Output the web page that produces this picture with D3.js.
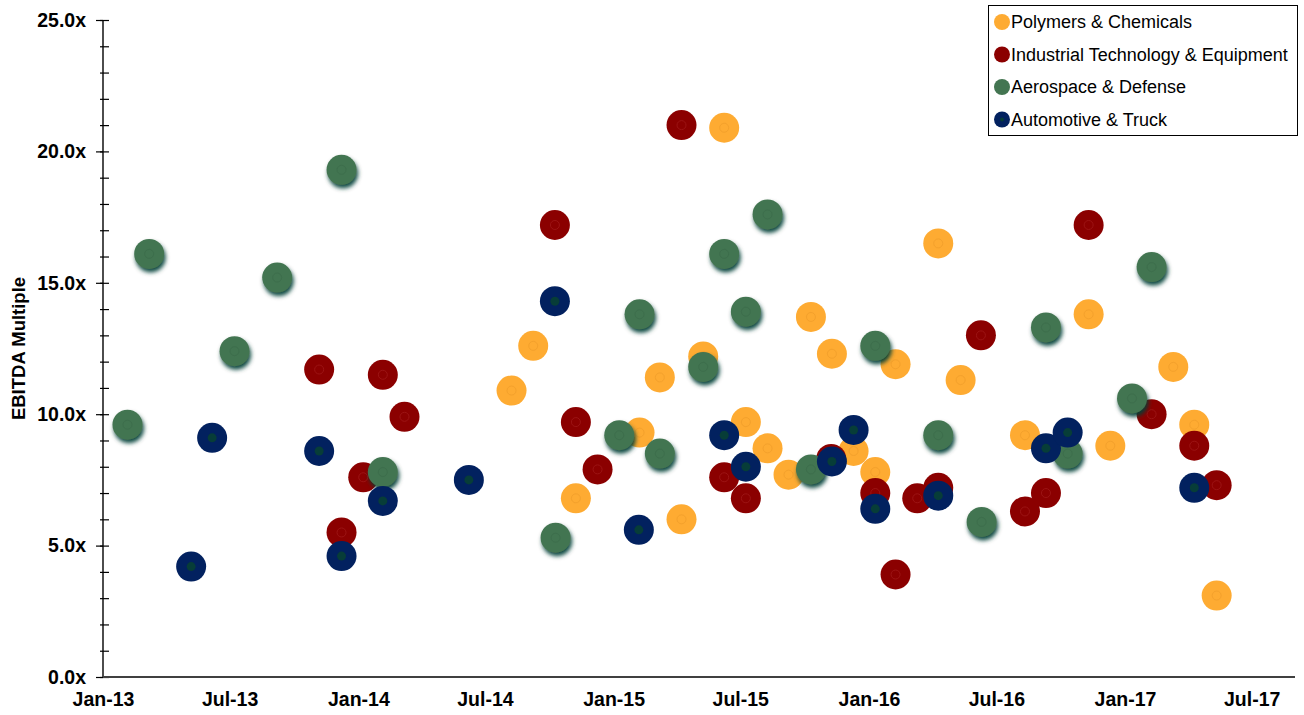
<!DOCTYPE html>
<html>
<head>
<meta charset="utf-8">
<script src="https://cdn.jsdelivr.net/npm/d3@7"></script>
<style>
  html, body { margin: 0; padding: 0; background: #fff; }
  svg text { font-family: "Liberation Sans", Arial, sans-serif; }
</style>
</head>
<body>
<svg id="chart" width="1304" height="715"></svg>
<script>
// series (date, EBITDA multiple)
const polymers = [
    ["2014-08-08", 10.9], ["2014-09-08", 12.6], ["2014-11-08", 6.8], ["2015-02-07", 9.3],
    ["2015-03-08", 11.4], ["2015-04-08", 6.0], ["2015-05-09", 12.2], ["2015-06-08", 20.9],
    ["2015-07-09", 9.7], ["2015-08-09", 8.7], ["2015-09-08", 7.7], ["2015-10-10", 13.7],
    ["2015-11-09", 12.3], ["2015-12-10", 8.6], ["2016-01-10", 7.8], ["2016-02-08", 11.9],
    ["2016-04-09", 16.5], ["2016-05-11", 11.3], ["2016-08-11", 9.2], ["2016-11-10", 13.8],
    ["2016-12-11", 8.8], ["2017-03-11", 11.8], ["2017-04-10", 9.6], ["2017-05-12", 3.1]
];
const industrial = [
    ["2013-11-06", 11.7], ["2013-12-08", 5.5], ["2014-01-08", 7.6], ["2014-02-05", 11.5],
    ["2014-03-08", 9.9], ["2014-10-09", 17.2], ["2014-11-08", 9.7], ["2014-12-09", 7.9],
    ["2015-04-08", 21.0], ["2015-06-08", 7.6], ["2015-07-09", 6.8], ["2015-11-08", 8.3],
    ["2016-01-10", 7.0], ["2016-02-08", 3.9], ["2016-03-10", 6.8], ["2016-04-09", 7.2],
    ["2016-06-09", 13.0], ["2016-08-11", 6.3], ["2016-09-10", 7.0], ["2016-11-10", 17.2],
    ["2017-02-08", 10.0], ["2017-04-10", 8.8], ["2017-05-12", 7.3]
];
const aerospace = [
    ["2013-02-05", 9.6], ["2013-03-08", 16.1], ["2013-07-08", 12.4], ["2013-09-07", 15.2],
    ["2013-12-08", 19.3], ["2014-02-05", 7.8], ["2014-10-10", 5.3], ["2015-01-09", 9.2],
    ["2015-02-07", 13.8], ["2015-03-08", 8.5], ["2015-05-09", 11.8], ["2015-06-08", 16.1],
    ["2015-07-09", 13.9], ["2015-08-09", 17.6], ["2015-10-10", 7.9], ["2016-01-10", 12.6],
    ["2016-04-09", 9.2], ["2016-06-10", 5.9], ["2016-09-10", 13.3], ["2016-10-11", 8.5],
    ["2017-01-11", 10.6], ["2017-02-08", 15.6]
];
const automotive = [
    ["2013-05-07", 4.2], ["2013-06-06", 9.1], ["2013-11-06", 8.6], ["2013-12-08", 4.6],
    ["2014-02-05", 6.7], ["2014-06-08", 7.5], ["2014-10-09", 14.3], ["2015-02-06", 5.6],
    ["2015-06-08", 9.2], ["2015-07-09", 8.0], ["2015-11-09", 8.2], ["2015-12-10", 9.4],
    ["2016-01-10", 6.4], ["2016-04-09", 6.9], ["2016-09-10", 8.7], ["2016-10-11", 9.3],
    ["2017-04-10", 7.2]
];

const seriesNames = ["Polymers & Chemicals", "Industrial Technology & Equipment", "Aerospace & Defense", "Automotive & Truck"];
const seriesData = [polymers, industrial, aerospace, automotive];
const seriesColors = ["#FEAB32", "#8B0000", "#437551", "#02215F"];

const xTickDates = ["2013-01-01", "2013-07-01", "2014-01-01", "2014-07-01", "2015-01-01",
    "2015-07-01", "2016-01-01", "2016-07-01", "2017-01-01", "2017-07-01"];
const yMajorTicks = [0, 5, 10, 15, 20, 25];
const yMinorTicks = d3.range(0, 26, 1);
const yTitle = "EBITDA Multiple";

const parseDate = d3.timeParse("%Y-%m-%d");
const svg = d3.select("#chart");

const x = d3.scaleTime()
    .domain([parseDate("2013-01-01"), parseDate("2017-09-01")])
    .range([103, 1295]);
const y = d3.scaleLinear()
    .domain([0, 25])
    .range([677, 20]);

// drop shadow used by the aerospace markers
const defs = svg.append("defs");
const shadow = defs.append("filter")
    .attr("id", "green-shadow")
    .attr("x", "-50%").attr("y", "-50%")
    .attr("width", "200%").attr("height", "200%");
shadow.append("feDropShadow")
    .attr("dx", 1.5).attr("dy", 3.5)
    .attr("stdDeviation", 2)
    .attr("flood-color", "#023f39")
    .attr("flood-opacity", 0.95);

// y axis: major ticks cross the line, minor ticks every 1.0x
svg.append("g")
    .attr("transform", "translate(103,0)")
    .call(d3.axisLeft(y).tickValues(yMinorTicks).tickSize(3).tickFormat(""))
    .call(g => g.select(".domain").remove())
    .selectAll("line").attr("stroke", "#000").attr("stroke-width", 1.2);
svg.append("g")
    .attr("transform", "translate(103,0)")
    .call(d3.axisRight(y).tickValues(yMinorTicks).tickSize(6).tickFormat(""))
    .call(g => g.select(".domain").remove())
    .selectAll("line").attr("stroke", "#000").attr("stroke-width", 1.2);

const yAxis = svg.append("g")
    .attr("transform", "translate(103,0)")
    .call(d3.axisLeft(y).tickValues(yMajorTicks).tickSize(7).tickPadding(10)
        .tickFormat(d => d.toFixed(1) + "x"));
yAxis.select(".domain").remove();
yAxis.selectAll("line").attr("stroke", "#000").attr("stroke-width", 1.2);
yAxis.selectAll("text")
    .style("font-size", "19.5px")
    .style("font-weight", "bold")
    .attr("fill", "#000");

svg.append("line")
    .attr("x1", 103).attr("x2", 103)
    .attr("y1", y(25)).attr("y2", y(0))
    .attr("stroke", "#000")
    .attr("stroke-width", 1.4);

// x axis
const xAxis = svg.append("g")
    .attr("transform", `translate(0,${y(0)})`)
    .call(d3.axisBottom(x)
        .tickValues(xTickDates.map(parseDate))
        .tickSize(0)
        .tickPadding(15)
        .tickFormat(d3.timeFormat("%b-%y")));
xAxis.select(".domain").remove();
xAxis.selectAll("text")
    .style("font-size", "19.5px")
    .style("font-weight", "bold")
    .attr("fill", "#000");

svg.append("line")
    .attr("x1", x.range()[0]).attr("x2", x.range()[1])
    .attr("y1", y(0)).attr("y2", y(0))
    .attr("stroke", "#404040")
    .attr("stroke-width", 2);

svg.append("text")
    .attr("transform", `translate(25,${(y(0) + y(25)) / 2}) rotate(-90)`)
    .attr("text-anchor", "middle")
    .style("font-size", "18.5px")
    .style("font-weight", "bold")
    .text(yTitle);

// markers, series drawn in legend order so later ones sit on top
const r = 15;
seriesData.forEach((data, i) => {
    const g = svg.append("g").attr("class", "series-" + i);
    const pts = g.selectAll("g.pt")
        .data(data)
        .enter().append("g")
        .attr("class", "pt")
        .attr("transform", d => `translate(${x(parseDate(d[0]))},${y(d[1])})`);
    pts.append("circle")
        .attr("r", r)
        .attr("fill", seriesColors[i])
        .attr("filter", i === 2 ? "url(#green-shadow)" : null);
    if (i === 3) {
        pts.append("circle")
            .attr("r", 4.5)
            .attr("fill", "#073d38");
    } else {
        pts.append("circle")
            .attr("r", 4.5)
            .attr("fill", "none")
            .attr("stroke", i === 0 ? "#f4a12c" : i === 1 ? "#9c1414" : "#3d6e4c")
            .attr("stroke-width", 1);
    }
});

// legend
const legend = svg.append("g");
legend.append("rect")
    .attr("x", 988.5).attr("y", 5.5)
    .attr("width", 309).attr("height", 130)
    .attr("fill", "#fff")
    .attr("stroke", "#000")
    .attr("stroke-width", 1);
const rows = legend.selectAll("g.row")
    .data(seriesNames)
    .enter().append("g")
    .attr("class", "row")
    .attr("transform", (d, i) => `translate(1002,${22 + i * 32.5})`);
rows.append("circle")
    .attr("r", 8)
    .attr("fill", (d, i) => seriesColors[i]);
rows.filter((d, i) => i === 3).append("circle")
    .attr("r", 2)
    .attr("fill", "#073d38");
rows.append("text")
    .attr("x", 9)
    .attr("dy", "0.35em")
    .style("font-size", "18px")
    .attr("fill", "#000")
    .text(d => d);
</script>
</body>
</html>
